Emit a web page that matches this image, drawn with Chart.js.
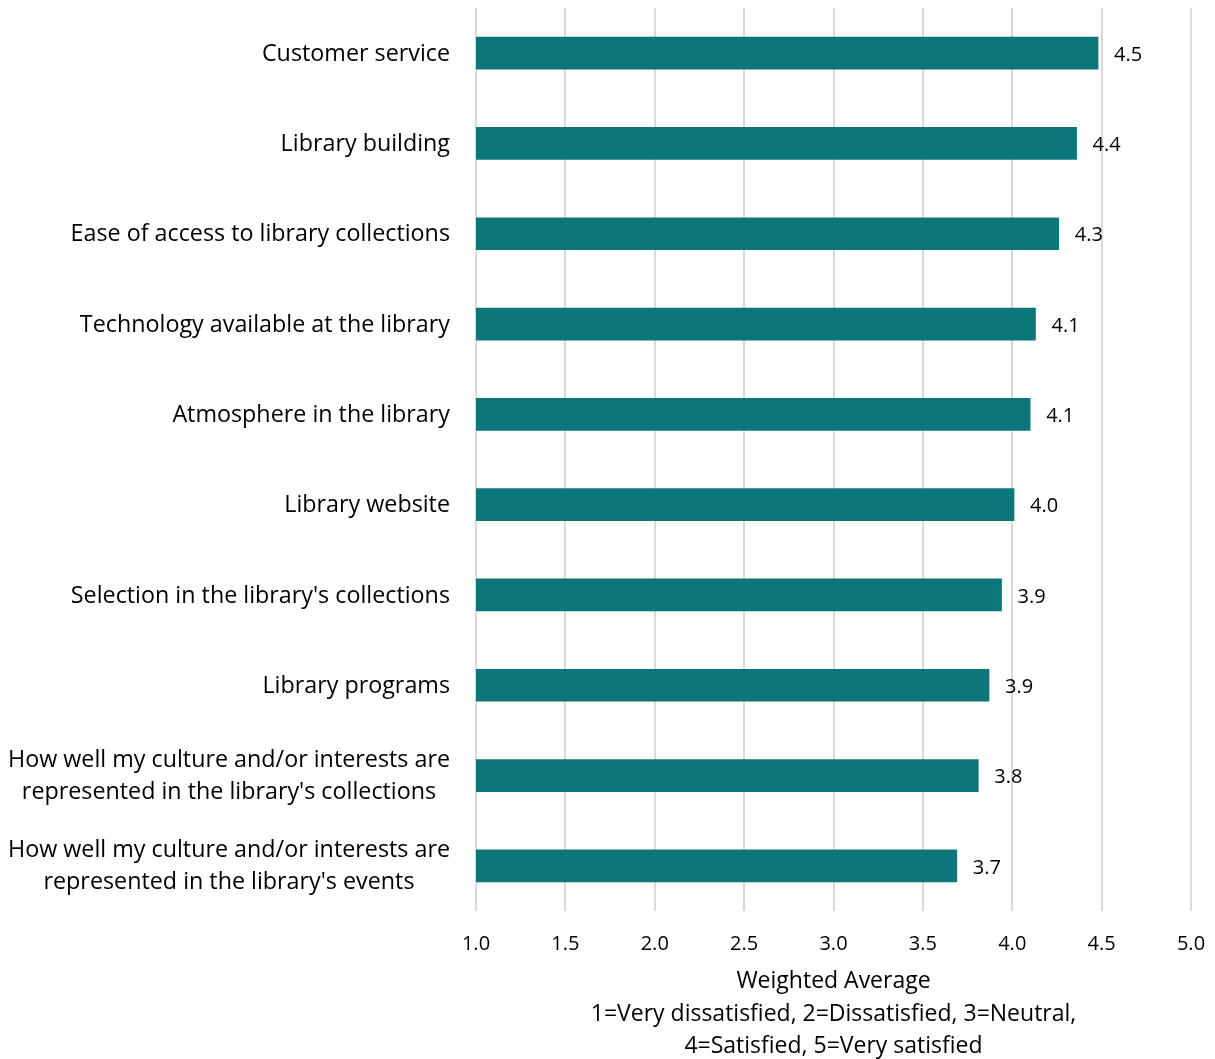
<!DOCTYPE html>
<html>
<head>
<meta charset="utf-8">
<script src="https://cdn.jsdelivr.net/npm/chart.js@4/dist/chart.umd.min.js"></script>
<style>
  html, body { margin: 0; padding: 0; background: #fff; }
  #wrap { width: 1215px; height: 1059px; }
</style>
</head>
<body>
<div id="wrap"><canvas id="myChart"></canvas></div>
<script>
var categories = [
  'Customer service',
  'Library building',
  'Ease of access to library collections',
  'Technology available at the library',
  'Atmosphere in the library',
  'Library website',
  "Selection in the library's collections",
  'Library programs',
  ['How well my culture and/or interests are', "represented in the library's collections"],
  ['How well my culture and/or interests are', "represented in the library's events"]
];
var averages = [4.48, 4.36, 4.26, 4.13, 4.10, 4.01, 3.94, 3.87, 3.81, 3.69];
var axisTitle = [
  'Weighted Average',
  '1=Very dissatisfied, 2=Dissatisfied, 3=Neutral,',
  '4=Satisfied, 5=Very satisfied'
];

var fontFamily = '"Open Sans", Lato, sans-serif';
var teal = '#0C767B';

// category names: right edge at the axis, lines of wrapped names centred on each other
var yLabels = {
  id: 'yLabels',
  afterDraw: function (chart) {
    var ctx = chart.ctx;
    var y = chart.scales.y;
    var right = chart.chartArea.left - 26;
    var lineH = 32;
    ctx.save();
    ctx.font = '23.3px ' + fontFamily;
    ctx.fillStyle = '#000';
    ctx.textAlign = 'center';
    ctx.textBaseline = 'middle';
    categories.forEach(function (cat, i) {
      var lines = Array.isArray(cat) ? cat : [cat];
      var maxW = Math.max.apply(null, lines.map(function (l) { return ctx.measureText(l).width; }));
      var cx = right - maxW / 2;
      var cy = y.getPixelForTick(i) + 1;
      var top = cy - (lines.length - 1) * lineH / 2;
      lines.forEach(function (l, j) {
        ctx.fillText(l, cx, top + j * lineH);
      });
    });
    ctx.restore();
  }
};

// value labels just past the end of each bar
var valueLabels = {
  id: 'valueLabels',
  afterDatasetsDraw: function (chart) {
    var ctx = chart.ctx;
    var meta = chart.getDatasetMeta(0);
    ctx.save();
    ctx.font = '20px ' + fontFamily;
    ctx.fillStyle = '#000';
    ctx.textAlign = 'left';
    ctx.textBaseline = 'middle';
    meta.data.forEach(function (bar, i) {
      ctx.fillText(averages[i].toFixed(1), bar.x + 16, bar.y + 2);
    });
    ctx.restore();
  }
};

new Chart(document.getElementById('myChart'), {
  type: 'bar',
  data: {
    labels: categories,
    datasets: [{
      data: averages,
      backgroundColor: teal,
      borderWidth: 0,
      barThickness: 32
    }]
  },
  options: {
    indexAxis: 'y',
    responsive: true,
    maintainAspectRatio: false,
    animation: false,
    layout: { padding: { top: 8, right: 24, bottom: 0, left: 0 } },
    plugins: {
      legend: { display: false },
      tooltip: { enabled: false }
    },
    scales: {
      x: {
        min: 1,
        max: 5,
        ticks: {
          stepSize: 0.5,
          padding: 21,
          color: '#000',
          font: { family: fontFamily, size: 20 },
          callback: function (v) { return Number(v).toFixed(1); }
        },
        grid: { color: '#D9D9D9', lineWidth: 2, drawTicks: false },
        border: { display: false },
        title: {
          display: true,
          text: axisTitle,
          color: '#000',
          font: { family: fontFamily, size: 23, lineHeight: 1.42 },
          padding: { top: 10, bottom: -4 }
        },
        afterFit: function (scale) {
          scale.height = 148;
          scale.paddingLeft = 0;
          scale.paddingRight = 0;
        }
      },
      y: {
        ticks: { display: false },
        grid: { display: false },
        border: { display: false },
        afterFit: function (scale) { scale.width = 476; }
      }
    }
  },
  plugins: [yLabels, valueLabels]
});
</script>
</body>
</html>
